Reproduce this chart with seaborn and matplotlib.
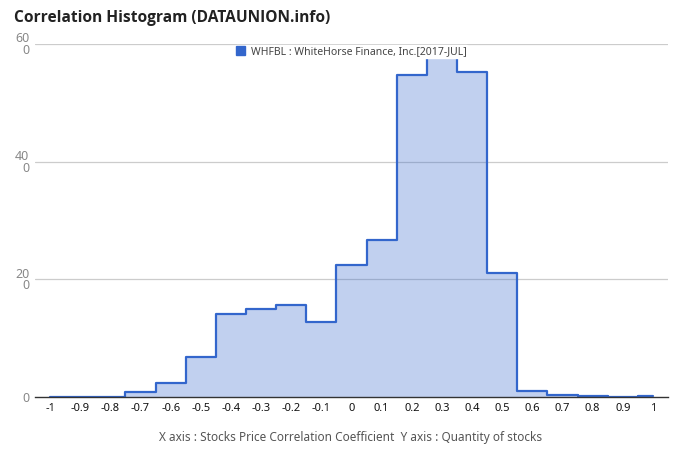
import matplotlib
matplotlib.use("Agg")
import matplotlib.pyplot as plt
import seaborn as sns
from matplotlib.patches import Patch

# ------------------- Data -------------------
coefficients = [-1.0, -0.9, -0.8, -0.7, -0.6, -0.5, -0.4, -0.3, -0.2, -0.1, 0.0,
                0.1, 0.2, 0.3, 0.4, 0.5, 0.6, 0.7, 0.8, 0.9, 1.0]
stock_counts = [0, 0, 0, 8, 24, 68, 141, 150, 156, 127, 225,
                267, 547, 588, 552, 211, 11, 4, 2, 0, 1]
x_tick_labels = ["-1", "-0.9", "-0.8", "-0.7", "-0.6", "-0.5", "-0.4", "-0.3", "-0.2", "-0.1", "0",
                 "0.1", "0.2", "0.3", "0.4", "0.5", "0.6", "0.7", "0.8", "0.9", "1"]
y_ticks = [0, 200, 400, 600]
y_tick_labels = ["0", "20\n0", "40\n0", "60\n0"]
series_name = "WHFBL : WhiteHorse Finance, Inc.[2017-JUL]"

# ------------------- Plot -------------------
sns.set_style("white")
plt.rcParams["font.family"] = ["Noto Sans", "DejaVu Sans"]

line_color = "#3366cc"
fig = plt.figure(figsize=(6.8, 4.62), dpi=100)
ax = fig.add_axes([35 / 680, 1 - 397 / 462, 633 / 680, 353 / 462])

ax.fill_between(coefficients, stock_counts, step="mid", color=line_color, alpha=0.3, linewidth=0)
sns.lineplot(x=coefficients, y=stock_counts, drawstyle="steps-mid", color=line_color,
             linewidth=1.6, ax=ax)

ax.set_xlim(-1.05, 1.05)
ax.set_ylim(0, 600)
ax.set_xticks(coefficients)
ax.set_xticklabels(x_tick_labels, fontsize=8, color="#111111", fontweight="medium")
ax.set_yticks(y_ticks)
ax.set_yticklabels(y_tick_labels, fontsize=9, color="#888888", linespacing=0.85)
ax.tick_params(axis="both", length=0, pad=4)

for v in y_ticks[1:]:
    ax.axhline(v, color="#cccccc", linewidth=0.9, zorder=0)

for side in ["top", "right", "left"]:
    ax.spines[side].set_visible(False)
ax.spines["bottom"].set_color("#333333")
ax.spines["bottom"].set_linewidth(1.0)

handle = Patch(facecolor=line_color, edgecolor=line_color)
leg = ax.legend(handles=[handle], labels=[series_name], loc="upper center",
                bbox_to_anchor=(0.5, 1.0), frameon=True, fontsize=7.5,
                handlelength=0.9, handleheight=0.9, handletextpad=0.6,
                borderpad=0.1, borderaxespad=0.1)
leg.get_frame().set_facecolor("white")
leg.get_frame().set_edgecolor("white")
leg.get_frame().set_alpha(1.0)
for t in leg.get_texts():
    t.set_color("#444444")

fig.text(14 / 680, 1 - 18 / 462, "Correlation Histogram (DATAUNION.info)",
         fontsize=11.2, fontweight="bold", color="#222222", va="center", ha="left",
         family=["Open Sans", "DejaVu Sans"])
fig.text(351 / 680, 1 - 437 / 462,
         "X axis : Stocks Price Correlation Coefficient  Y axis : Quantity of stocks",
         fontsize=8.5, color="#555555", va="center", ha="center")

fig.savefig("out.png", dpi=100)
